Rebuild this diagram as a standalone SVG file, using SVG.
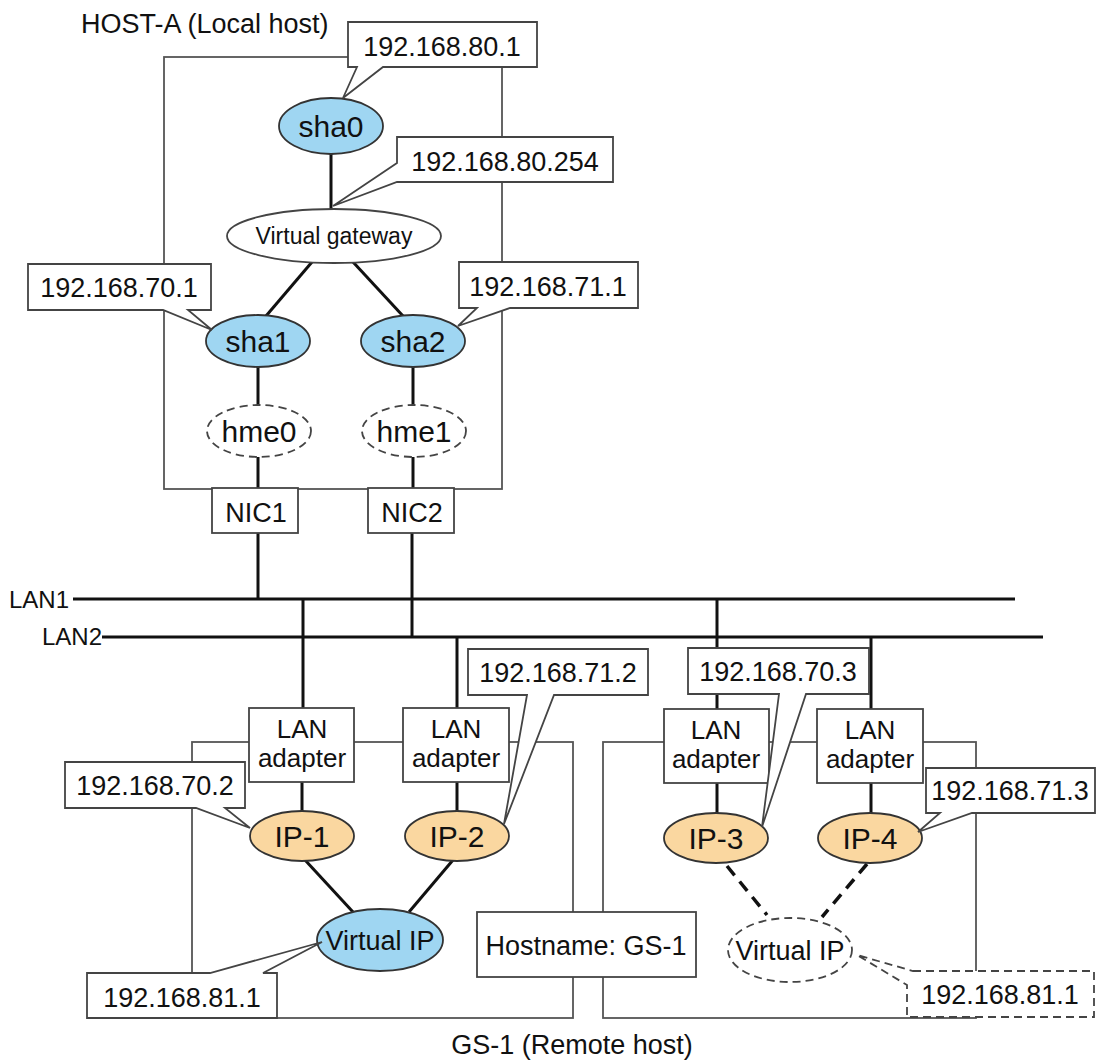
<svg xmlns="http://www.w3.org/2000/svg" width="1096" height="1063" viewBox="0 0 1096 1063">
<style>
text{font-family:"Liberation Sans",Arial,sans-serif;fill:#111;}
.t{font-size:27px;text-anchor:middle;}
.a{font-size:26px;text-anchor:middle;}
.n{font-size:30px;text-anchor:middle;}
.frame{fill:none;stroke:#555;stroke-width:1.8;}
.box{fill:#fff;stroke:#444;stroke-width:1.8;}
.blue{fill:#9fd6f2;stroke:#333;stroke-width:1.8;}
.orange{fill:#fad7a0;stroke:#333;stroke-width:1.8;}
.dash{fill:#fff;stroke:#444;stroke-width:1.8;stroke-dasharray:8 5;}
.c{stroke:#111;stroke-width:3;fill:none;}
.cd{stroke:#111;stroke-width:3.5;fill:none;stroke-dasharray:12 8;}
.lan{stroke:#111;stroke-width:3.2;fill:none;}
</style>

<g id="host-a-frame">
<rect class="frame" x="164" y="57" width="338" height="432"/>
<text x="81" y="33" style="font-size:27px">HOST-A (Local host)</text>
</g>
<g id="gs-1-frames">
<rect class="frame" x="192" y="742" width="381" height="276"/>
<rect class="frame" x="603" y="742" width="373" height="276"/>
<text class="t" x="572" y="1054">GS-1 (Remote host)</text>
</g>

<g id="connectors">
<line class="c" x1="331" y1="154" x2="331" y2="209"/>
<line class="c" x1="312" y1="262" x2="266" y2="316"/>
<line class="c" x1="353" y1="262" x2="403" y2="316"/>
<line class="c" x1="258" y1="367" x2="258" y2="405"/>
<line class="c" x1="413" y1="367" x2="413" y2="405"/>
<line class="c" x1="258" y1="457" x2="258" y2="488"/>
<line class="c" x1="413" y1="457" x2="413" y2="488"/>
<line class="c" x1="258" y1="533" x2="258" y2="599"/>
<line class="c" x1="412" y1="533" x2="412" y2="637"/>
<line class="lan" x1="73" y1="599" x2="1015" y2="599"/>
<line class="lan" x1="102" y1="637" x2="1043" y2="637"/>
<line class="c" x1="303" y1="599" x2="303" y2="708"/>
<line class="c" x1="457" y1="637" x2="457" y2="708"/>
<line class="c" x1="717" y1="599" x2="717" y2="709"/>
<line class="c" x1="871" y1="637" x2="871" y2="709"/>
<line class="c" x1="302" y1="782" x2="302" y2="811"/>
<line class="c" x1="457" y1="782" x2="457" y2="811"/>
<line class="c" x1="717" y1="783" x2="717" y2="813"/>
<line class="c" x1="871" y1="783" x2="871" y2="813"/>
<line class="c" x1="305" y1="860" x2="353" y2="912"/>
<line class="c" x1="453" y1="860" x2="409" y2="912"/>
<line class="cd" x1="727" y1="866" x2="767" y2="915"/>
<line class="cd" x1="867" y1="864" x2="822" y2="917"/>
<text x="69" y="608" style="font-size:24px;text-anchor:end">LAN1</text>
<text x="102" y="645" style="font-size:24px;text-anchor:end">LAN2</text>
</g>

<g id="sha0"><ellipse class="blue" cx="331" cy="126" rx="52" ry="28"/><text class="n" x="331" y="137">sha0</text></g>
<g id="virtual-gateway"><ellipse class="box" cx="334" cy="236" rx="107" ry="27"/><text class="t" x="334" y="244" style="font-size:23px">Virtual gateway</text></g>
<g id="sha1"><ellipse class="blue" cx="258" cy="341" rx="52" ry="26"/><text class="n" x="258" y="352">sha1</text></g>
<g id="sha2"><ellipse class="blue" cx="413" cy="341" rx="52" ry="26"/><text class="n" x="413" y="352">sha2</text></g>
<g id="hme0"><ellipse class="dash" cx="259" cy="431" rx="52" ry="26"/><text class="n" x="259" y="442">hme0</text></g>
<g id="hme1"><ellipse class="dash" cx="414" cy="431" rx="52" ry="26"/><text class="n" x="414" y="442">hme1</text></g>
<g id="nic1"><rect class="box" x="212" y="488" width="86" height="45"/><text class="t" x="256" y="522">NIC1</text></g>
<g id="nic2"><rect class="box" x="368" y="488" width="86" height="45"/><text class="t" x="412" y="522">NIC2</text></g>

<g id="lan-adapter-1"><rect class="box" x="249" y="708" width="105" height="74"/><text class="a" x="302" y="738">LAN</text><text class="a" x="302" y="767">adapter</text></g>
<g id="lan-adapter-2"><rect class="box" x="403" y="708" width="106" height="74"/><text class="a" x="456" y="738">LAN</text><text class="a" x="456" y="767">adapter</text></g>
<g id="lan-adapter-3"><rect class="box" x="664" y="709" width="105" height="74"/><text class="a" x="716" y="739">LAN</text><text class="a" x="716" y="768">adapter</text></g>
<g id="lan-adapter-4"><rect class="box" x="817" y="709" width="106" height="74"/><text class="a" x="870" y="739">LAN</text><text class="a" x="870" y="768">adapter</text></g>

<g id="ip-1"><ellipse class="orange" cx="302" cy="836" rx="52" ry="25"/><text class="n" x="302" y="847">IP-1</text></g>
<g id="ip-2"><ellipse class="orange" cx="457" cy="836" rx="52" ry="25"/><text class="n" x="457" y="847">IP-2</text></g>
<g id="ip-3"><ellipse class="orange" cx="716" cy="838" rx="52" ry="25"/><text class="n" x="716" y="849">IP-3</text></g>
<g id="ip-4"><ellipse class="orange" cx="870" cy="838" rx="52" ry="25"/><text class="n" x="870" y="849">IP-4</text></g>

<g id="virtual-ip-1"><ellipse class="blue" cx="380" cy="940" rx="63" ry="31"/><text class="t" x="380" y="950">Virtual IP</text></g>
<g id="virtual-ip-2"><ellipse class="dash" cx="790" cy="950" rx="62" ry="32"/><text class="t" x="790" y="960">Virtual IP</text></g>
<g id="hostname"><rect class="box" x="477" y="912" width="219" height="65"/><text class="t" x="586" y="955">Hostname: GS-1</text></g>

<g id="callout-80-1"><path class="box" d="M348,22 H537 V67 H383 L343,98 L357,67 H348 Z"/><text class="t" x="442" y="56">192.168.80.1</text></g>
<g id="callout-80-254"><path class="box" d="M397,137 H613 V182 H397 L333,206 L397,163 Z"/><text class="t" x="505" y="171">192.168.80.254</text></g>
<g id="callout-70-1"><path class="box" d="M28,264 H211 V310 H188 L212,330 L163,310 H28 Z"/><text class="t" x="119" y="297">192.168.70.1</text></g>
<g id="callout-71-1"><path class="box" d="M459,262 H638 V308 H510 L458,326 L477,308 H459 Z"/><text class="t" x="548" y="296">192.168.71.1</text></g>
<g id="callout-70-2"><path class="box" d="M65,762 H245 V808 H225 L250,828 L196,808 H65 Z"/><text class="t" x="155" y="795">192.168.70.2</text></g>
<g id="callout-71-2"><path class="box" d="M468,649 H648 V695 H554 L504,824 L527,695 H468 Z"/><text class="t" x="558" y="682">192.168.71.2</text></g>
<g id="callout-70-3"><path class="box" d="M688,648 H869 V694 H806 L762,827 L779,694 H688 Z"/><text class="t" x="778" y="681">192.168.70.3</text></g>
<g id="callout-71-3"><path class="box" d="M926,768 H1095 V813 H972 L918,832 L940,813 H926 Z"/><text class="t" x="1010" y="800">192.168.71.3</text></g>
<g id="callout-81-1-left"><path class="box" d="M87,973 H210 L322,942 L263,973 H277 V1018 H87 Z"/><text class="t" x="182" y="1007">192.168.81.1</text></g>
<g id="callout-81-1-right"><path class="dash" d="M913,971 H1094 V1017 H907 V985 L857,955 L913,971 Z"/><text class="t" x="1000" y="1004">192.168.81.1</text></g>
</svg>
